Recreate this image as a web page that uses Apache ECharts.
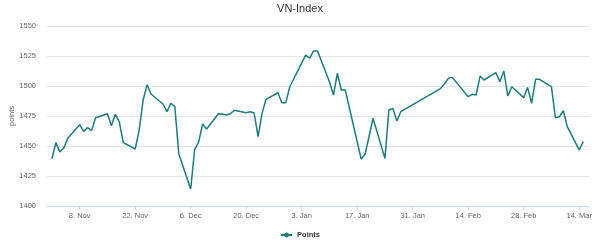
<!DOCTYPE html>
<html>
<head>
<meta charset="utf-8">
<script src="https://cdn.jsdelivr.net/npm/echarts@6/dist/echarts.min.js"></script>
<style>
  html, body { margin: 0; padding: 0; background: #ffffff; }
  #chart { width: 600px; height: 240px; }
</style>
</head>
<body>
<div id="chart"></div>
<script>
// ---- Data ----
const dates = [
  '2021-11-01','2021-11-02','2021-11-03','2021-11-04','2021-11-05',
  '2021-11-08','2021-11-09','2021-11-10','2021-11-11','2021-11-12',
  '2021-11-15','2021-11-16','2021-11-17','2021-11-18','2021-11-19',
  '2021-11-22','2021-11-23','2021-11-24','2021-11-25','2021-11-26',
  '2021-11-29','2021-11-30','2021-12-01','2021-12-02','2021-12-03',
  '2021-12-06','2021-12-07','2021-12-08','2021-12-09','2021-12-10',
  '2021-12-13','2021-12-14','2021-12-15','2021-12-16','2021-12-17',
  '2021-12-20','2021-12-21','2021-12-22','2021-12-23','2021-12-24',
  '2021-12-25','2021-12-28','2021-12-29','2021-12-30','2021-12-31',
  '2022-01-04','2022-01-05','2022-01-06','2022-01-07',
  '2022-01-10','2022-01-11','2022-01-12','2022-01-13','2022-01-14',
  '2022-01-18','2022-01-19','2022-01-21',
  '2022-01-24','2022-01-25','2022-01-26','2022-01-27','2022-01-28',
  '2022-02-07','2022-02-08','2022-02-09','2022-02-10',
  '2022-02-14','2022-02-15','2022-02-16','2022-02-17','2022-02-18',
  '2022-02-21','2022-02-22','2022-02-23','2022-02-24','2022-02-25',
  '2022-02-28','2022-03-01','2022-03-02','2022-03-03','2022-03-04',
  '2022-03-07','2022-03-08','2022-03-09','2022-03-10','2022-03-11',
  '2022-03-14','2022-03-15'
];
const points = [
  1439.4,1452.8,1445.0,1448.6,1456.4,
  1467.8,1462.2,1465.3,1462.8,1473.6,
  1476.9,1466.9,1476.4,1470.0,1452.8,
  1447.5,1463.3,1488.3,1501.1,1493.3,
  1485.0,1478.6,1485.6,1482.8,1443.3,
  1414.2,1447.2,1453.3,1468.3,1464.2,
  1476.9,1476.7,1475.8,1476.9,1479.7,
  1477.8,1478.6,1477.5,1457.8,1477.2,
  1488.9,1494.4,1486.1,1486.1,1499.4,
  1525.8,1523.1,1529.2,1529.2,
  1503.6,1492.5,1510.6,1496.7,1496.7,
  1439.2,1443.1,1473.1,
  1439.7,1480.0,1481.4,1470.8,1478.6,
  1497.8,1501.7,1506.4,1507.2,
  1491.1,1493.1,1492.5,1508.3,1505.0,
  1511.1,1503.6,1512.5,1491.7,1499.4,
  1490.3,1498.9,1485.6,1505.6,1505.6,
  1499.4,1473.6,1474.4,1479.4,1466.1,
  1446.7,1453.6
];
const tickDates = ['2021-11-08','2021-11-22','2021-12-06','2021-12-20','2022-01-03',
                   '2022-01-17','2022-01-31','2022-02-14','2022-02-28','2022-03-14'];
const tickLabels = ['8. Nov','22. Nov','6. Dec','20. Dec','3. Jan',
                    '17. Jan','31. Jan','14. Feb','28. Feb','14. Mar'];
const yTicks = [1400, 1425, 1450, 1475, 1500, 1525, 1550];
const seriesName = 'Points';
const chartTitle = 'VN-Index';
const yAxisTitle = 'points';

// ---- Build ----
const DAY = 86400000;
function ts(s) { const p = s.split('-').map(Number); return Date.UTC(p[0], p[1] - 1, p[2]); }
const tickTs = tickDates.map(ts);
const seriesData = dates.map((d, i) => [ts(d), points[i]]);

const chart = echarts.init(document.getElementById('chart'), null, { renderer: 'canvas' });
const FONT = '"Liberation Sans", Arial, sans-serif';
chart.setOption({
  animation: false,
  backgroundColor: '#ffffff',
  title: {
    text: chartTitle, left: 'center', top: 3, padding: 0,
    textStyle: { fontFamily: FONT, fontSize: 11, fontWeight: 'normal', color: '#333333' }
  },
  legend: {
    data: [seriesName], left: 'center', top: 231, padding: 0,
    itemWidth: 11, itemHeight: 6,
    textStyle: { fontFamily: FONT, fontSize: 7.5, fontWeight: 'bold', color: '#333333' }
  },
  grid: { left: 47, right: 11, top: 26, bottom: 34, containLabel: false, outerBoundsMode: 'none' },
  xAxis: {
    type: 'value',
    min: tickTs[0] - 8.25 * DAY,
    max: tickTs[0] + 128.48 * DAY,
    splitLine: { show: false },
    axisLine: { show: true, lineStyle: { color: '#ccd6eb', width: 1 } },
    axisTick: { show: true, length: 4, customValues: tickTs, lineStyle: { color: '#ccd6eb' } },
    axisLabel: {
      customValues: tickTs, margin: 6,
      fontFamily: FONT, fontSize: 7.5, color: '#666666',
      formatter: function (v) { const i = tickTs.indexOf(v); return i >= 0 ? tickLabels[i] : ''; }
    }
  },
  yAxis: {
    type: 'value', min: yTicks[0], max: yTicks[yTicks.length - 1], interval: 25,
    name: yAxisTitle, nameLocation: 'middle', nameGap: 31, nameRotate: 90, nameMoveOverlap: false,
    nameTextStyle: { fontFamily: FONT, fontSize: 7.5, color: '#666666' },
    axisLine: { show: false },
    axisTick: { show: false },
    axisLabel: {
      margin: 11, fontFamily: FONT, fontSize: 7.5, color: '#666666',
      formatter: function (v) { return String(v); }
    },
    splitLine: { lineStyle: { color: '#e6e6e6', width: 1 } }
  },
  series: [{
    name: seriesName, type: 'line', data: seriesData,
    symbol: 'circle', symbolSize: 5, showSymbol: false,
    itemStyle: { color: '#217a7b' },
    lineStyle: { color: '#217a7b', width: 1.5 }
  }]
});
</script>
</body>
</html>
